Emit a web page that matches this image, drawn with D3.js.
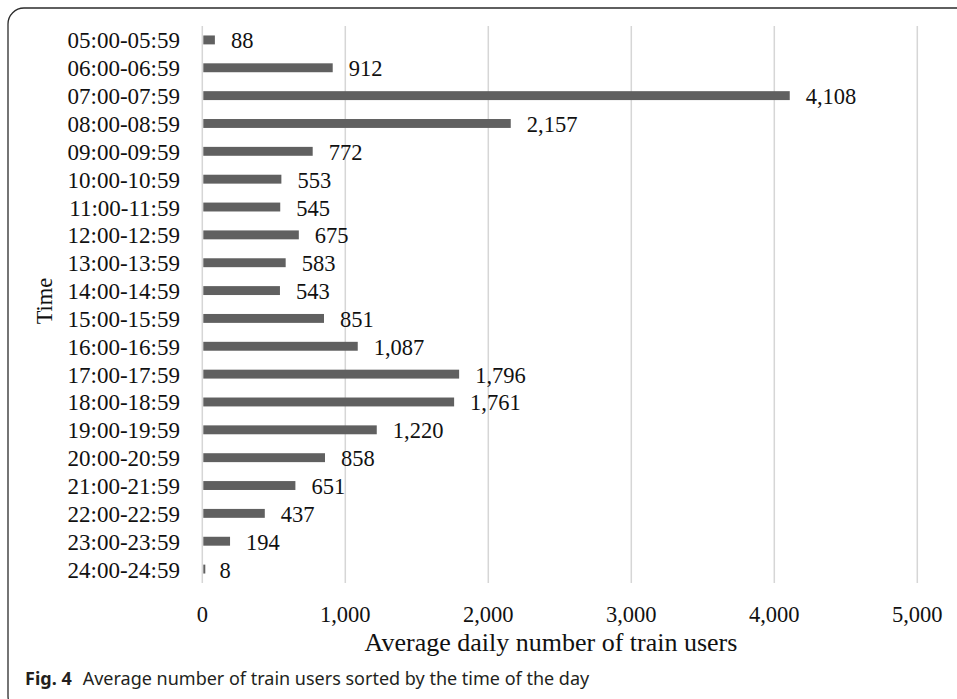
<!DOCTYPE html>
<html>
<head>
<meta charset="utf-8">
<script src="https://cdn.jsdelivr.net/npm/d3@7"></script>
<style>
  body { margin: 0; background: #fff; }
  svg { display: block; }
</style>
</head>
<body>
<svg></svg>
<script>
const timeSlots = ["05:00-05:59", "06:00-06:59", "07:00-07:59", "08:00-08:59", "09:00-09:59",
    "10:00-10:59", "11:00-11:59", "12:00-12:59", "13:00-13:59", "14:00-14:59",
    "15:00-15:59", "16:00-16:59", "17:00-17:59", "18:00-18:59", "19:00-19:59",
    "20:00-20:59", "21:00-21:59", "22:00-22:59", "23:00-23:59", "24:00-24:59"];
const users = [88, 912, 4108, 2157, 772, 553, 545, 675, 583, 543,
    851, 1087, 1796, 1761, 1220, 858, 651, 437, 194, 8];
const xTicks = [0, 1000, 2000, 3000, 4000, 5000];

const width = 957, height = 699;
const plot = {left: 202.3, right: 917.3, top: 26, bottom: 583};
const serif = "'Liberation Serif', 'Times New Roman', serif";

const svg = d3.select("svg")
    .attr("width", width)
    .attr("height", height);

// frame round the figure, only the left and top edges show
const r = 16;
svg.append("path")
    .attr("d", `M${width + 2},8 H${8 + r} A${r},${r} 0 0 0 8,${8 + r} V${712 - r} A${r},${r} 0 0 0 ${8 + r},712`)
    .attr("fill", "none")
    .attr("stroke", "#2b2b2b")
    .attr("stroke-width", 1.3);

var x = d3.scaleLinear()
    .domain([0, 5000])
    .range([plot.left, plot.right]);

var y = d3.scaleBand()
    .domain(timeSlots)
    .range([plot.top, plot.bottom])
    .paddingInner(0.68)
    .paddingOuter(0.34);

// gridlines
svg.append("g")
    .selectAll("line")
    .data(xTicks)
    .enter()
    .append("line")
    .attr("x1", d => x(d))
    .attr("x2", d => x(d))
    .attr("y1", plot.top)
    .attr("y2", plot.bottom)
    .attr("stroke", "#d6d6d6")
    .attr("stroke-width", 1.5);

// bars
svg.append("g")
    .selectAll("rect")
    .data(users)
    .enter()
    .append("rect")
    .attr("x", x(0) + 1)
    .attr("y", (d, i) => y(timeSlots[i]))
    .attr("width", d => Math.max(x(d) - x(0) - 1, 2))
    .attr("height", y.bandwidth())
    .attr("fill", "#606060");

// value labels
const fmt = d3.format(",");
svg.append("g")
    .selectAll("text")
    .data(users)
    .enter()
    .append("text")
    .attr("x", d => x(d) + 16)
    .attr("y", (d, i) => y(timeSlots[i]) + y.bandwidth() / 2 + 1)
    .attr("dominant-baseline", "central")
    .style("font-family", serif)
    .style("font-size", "22.5px")
    .attr("fill", "#111")
    .text(d => fmt(d));

// category labels
svg.append("g")
    .selectAll("text")
    .data(timeSlots)
    .enter()
    .append("text")
    .attr("x", 180)
    .attr("y", d => y(d) + y.bandwidth() / 2 + 1)
    .attr("text-anchor", "end")
    .attr("dominant-baseline", "central")
    .style("font-family", serif)
    .style("font-size", "23px")
    .attr("fill", "#111")
    .text(d => d);

// x tick labels
svg.append("g")
    .selectAll("text")
    .data(xTicks)
    .enter()
    .append("text")
    .attr("x", d => x(d))
    .attr("y", 622)
    .attr("text-anchor", "middle")
    .style("font-family", serif)
    .style("font-size", "22.5px")
    .attr("fill", "#111")
    .text(d => fmt(d));

// axis titles
svg.append("text")
    .attr("x", 551)
    .attr("y", 651)
    .attr("text-anchor", "middle")
    .style("font-family", serif)
    .style("font-size", "26px")
    .attr("fill", "#111")
    .text("Average daily number of train users");

svg.append("text")
    .attr("transform", "translate(52,301) rotate(-90)")
    .attr("text-anchor", "middle")
    .style("font-family", serif)
    .style("font-size", "22.5px")
    .attr("fill", "#111")
    .text("Time");

// caption
const caption = svg.append("text")
    .attr("x", 25)
    .attr("y", 685)
    .style("font-family", "'Noto Sans', sans-serif")
    .style("font-size", "18px")
    .attr("fill", "#231f20");
caption.append("tspan")
    .style("font-weight", "bold")
    .text("Fig. 4");
caption.append("tspan")
    .attr("dx", 11)
    .text("Average number of train users sorted by the time of the day");
</script>
</body>
</html>
